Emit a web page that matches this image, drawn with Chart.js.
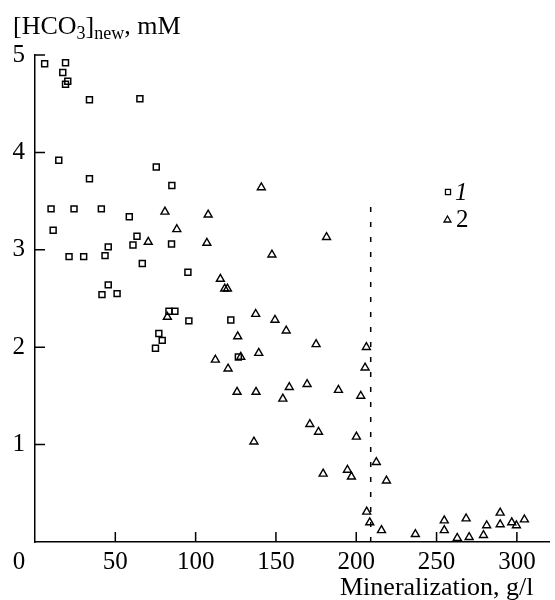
<!DOCTYPE html>
<html>
<head>
<meta charset="utf-8">
<script src="https://cdn.jsdelivr.net/npm/chart.js@4.4.1/dist/chart.umd.min.js"></script>
<style>
  html, body { margin: 0; padding: 0; background: #fff; }
  #wrap { width: 555px; height: 600px; }
</style>
</head>
<body>
<div id="wrap"><canvas id="chart" width="555" height="600"></canvas></div>
<script>
// series 1 (squares): mineralization g/l, [HCO3]new mM
const series1Mineralization = [6, 19, 17.3, 20.4, 19, 33.9, 65.3, 14.8, 75.5, 33.9, 85.2, 10, 24.3, 41.3, 58.7, 11.3, 63.5, 45.6, 61, 85, 21.2, 30.3, 43.6, 66.8, 95.2, 45.6, 41.7, 51.1, 83.4, 87.1, 95.8, 77.1, 79.2, 75, 121.9, 126.6];
const series1Hco3 = [4.91, 4.92, 4.82, 4.73, 4.70, 4.54, 4.55, 3.92, 3.85, 3.73, 3.66, 3.42, 3.42, 3.42, 3.34, 3.20, 3.14, 3.03, 3.05, 3.06, 2.93, 2.93, 2.94, 2.86, 2.77, 2.64, 2.54, 2.55, 2.37, 2.37, 2.27, 2.14, 2.07, 1.99, 2.28, 1.90];

// series 2 (triangles)
const series2Mineralization = [80.9, 88.3, 70.5, 82.4, 140.9, 107.8, 107, 181.5, 147.5, 115.4, 118.1, 119.8, 137.4, 149.4, 156.4, 126.2, 175, 112.3, 128.1, 139.3, 120.2, 206.3, 205.5, 125.8, 137.6, 158.3, 154.3, 169.4, 188.9, 202.8, 171.1, 176.5, 200.1, 136.3, 179.4, 194.5, 197, 212.5, 206.5, 208.4, 218.8, 215.7, 236.8, 254.8, 254.8, 262.9, 268.4, 270.3, 279.2, 281.2, 289.6, 289.6, 296.8, 299.7, 304.7];
const series2Hco3 = [3.39, 3.21, 3.08, 2.31, 3.64, 3.36, 3.07, 3.13, 2.95, 2.70, 2.60, 2.60, 2.34, 2.28, 2.17, 2.11, 2.03, 1.87, 1.90, 1.94, 1.78, 2.00, 1.79, 1.54, 1.54, 1.59, 1.47, 1.62, 1.56, 1.50, 1.21, 1.13, 1.08, 1.03, 0.70, 0.74, 0.67, 0.82, 0.31, 0.20, 0.63, 0.12, 0.08, 0.22, 0.12, 0.04, 0.24, 0.05, 0.07, 0.17, 0.30, 0.18, 0.20, 0.17, 0.23];

// dashed boundary
const boundaryX = [209, 209];
const boundaryY = [0, 3.46];

const xTicks = [50, 100, 150, 200, 250, 300];
const yTicks = [1, 2, 3, 4, 5];
const legendLabels = ['1', '2'];
const xTitle = 'Mineralization, g/l';

const serif = "'Liberation Serif', 'Times New Roman', serif";

const toPoints = (xs, ys) => xs.map((x, i) => ({ x: x, y: ys[i] }));

function drawMarker(ctx, style, x, y, r) {
  ctx.beginPath();
  if (style === 'rect') {
    const s = r * Math.SQRT1_2;
    ctx.rect(x - s, y - s, 2 * s, 2 * s);
  } else {
    ctx.moveTo(x, y - r);
    ctx.lineTo(x + r * 0.866, y + r * 0.5);
    ctx.lineTo(x - r * 0.866, y + r * 0.5);
    ctx.closePath();
  }
  ctx.stroke();
}

const paperAxes = {
  id: 'paperAxes',
  afterDraw(chart) {
    const ctx = chart.ctx;
    const xs = chart.scales.x, ys = chart.scales.y;
    const left = chart.chartArea.left, bottom = chart.chartArea.bottom;
    ctx.save();
    ctx.strokeStyle = '#000';
    ctx.lineWidth = 1.5;
    // inward tick marks
    ctx.beginPath();
    yTicks.forEach(v => {
      const py = ys.getPixelForValue(v);
      ctx.moveTo(left, py);
      ctx.lineTo(left + 10, py);
    });
    xTicks.forEach(v => {
      const px = xs.getPixelForValue(v);
      ctx.moveTo(px, bottom);
      ctx.lineTo(px, bottom - 10);
    });
    ctx.stroke();

    ctx.fillStyle = '#000';
    // origin label
    ctx.font = '25px ' + serif;
    ctx.textAlign = 'center';
    ctx.textBaseline = 'alphabetic';
    ctx.fillText('0', 19, 569);

    // x title
    ctx.font = '26px ' + serif;
    ctx.textAlign = 'left';
    ctx.fillText(xTitle, 340, 595);

    // y title: [HCO3]new, mM
    let x = 13;
    const base = 34;
    const part = (t, size, dy) => {
      ctx.font = size + 'px ' + serif;
      ctx.fillText(t, x, base + dy);
      x += ctx.measureText(t).width;
    };
    part('[HCO', 26, 0);
    part('3', 18, 5);
    part(']', 26, 0);
    part('new', 18, 5);
    part(', mM', 26, 0);

    // legend
    ctx.lineWidth = 1.3;
    drawMarker(ctx, 'rect', 448, 192, 3.6);
    drawMarker(ctx, 'triangle', 447.5, 220, 4);
    ctx.font = 'italic 25px ' + serif;
    ctx.fillText(legendLabels[0], 455, 200);
    ctx.font = '25px ' + serif;
    ctx.fillText(legendLabels[1], 456, 227);
    ctx.restore();
  }
};

new Chart(document.getElementById('chart'), {
  type: 'scatter',
  data: {
    datasets: [
      {
        label: '1',
        data: toPoints(series1Mineralization, series1Hco3),
        pointStyle: 'rect',
        pointRadius: 4.2,
        borderColor: '#000',
        backgroundColor: 'rgba(0,0,0,0)',
        borderWidth: 1.5
      },
      {
        label: '2',
        data: toPoints(series2Mineralization, series2Hco3),
        pointStyle: 'triangle',
        pointRadius: 4.6,
        borderColor: '#000',
        backgroundColor: 'rgba(0,0,0,0)',
        borderWidth: 1.4
      },
      {
        type: 'line',
        data: toPoints(boundaryX, boundaryY),
        borderColor: '#000',
        borderWidth: 1.5,
        borderDash: [5, 10],
        pointRadius: 0,
        fill: false
      }
    ]
  },
  options: {
    responsive: false,
    animation: false,
    layout: { padding: { top: 55, right: 0, left: 0, bottom: 0 } },
    plugins: { legend: { display: false }, tooltip: { enabled: false } },
    scales: {
      x: {
        type: 'linear',
        min: 0,
        max: 320,
        grid: { display: false, drawTicks: false },
        border: { display: true, color: '#000', width: 1.5 },
        ticks: {
          stepSize: 50,
          includeBounds: false,
          autoSkip: false,
          maxRotation: 0,
          padding: 5,
          color: '#000',
          font: { family: serif, size: 25 },
          callback: v => (xTicks.includes(v) ? v : '')
        },
        afterFit: s => { s.height = 58; }
      },
      y: {
        min: 0,
        max: 5,
        grid: { display: false, drawTicks: false },
        border: { display: true, color: '#000', width: 1.5 },
        ticks: {
          stepSize: 1,
          padding: 10,
          color: '#000',
          font: { family: serif, size: 25 },
          callback: v => (yTicks.includes(v) ? v : '')
        },
        afterFit: s => { s.width = 35; }
      }
    }
  },
  plugins: [paperAxes]
});
</script>
</body>
</html>
